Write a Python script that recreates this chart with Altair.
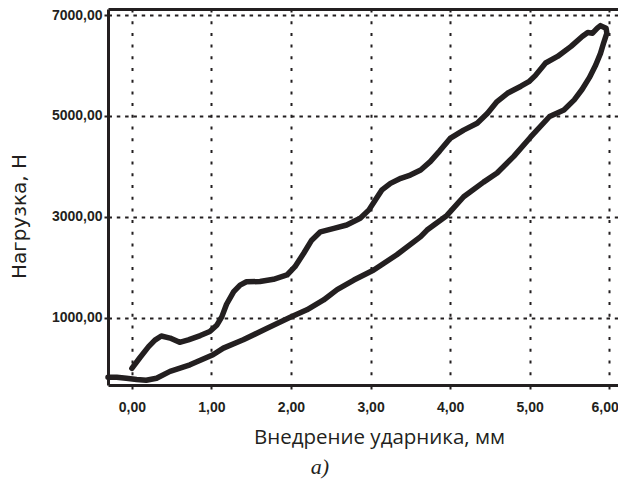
import altair as alt
import pandas as pd

# Penetration of the striker, mm (loading branch followed by unloading branch)
x_mm = [
    0.00, 0.10, 0.21, 0.29, 0.37, 0.48, 0.60, 0.71, 0.86, 0.98,
    1.07, 1.13, 1.19, 1.28, 1.36, 1.44, 1.61, 1.78, 1.95, 2.05,
    2.16, 2.26, 2.37, 2.54, 2.70, 2.87, 2.98, 3.06, 3.14, 3.25,
    3.38, 3.50, 3.63, 3.75, 3.87, 4.00, 4.17, 4.34, 4.47, 4.59,
    4.72, 4.89, 4.99, 5.07, 5.20, 5.35, 5.52, 5.66, 5.73, 5.79,
    5.85, 5.89, 5.96, 5.97,
    5.93, 5.89, 5.83, 5.75, 5.66, 5.56, 5.43, 5.25, 5.01, 4.80,
    4.59, 4.42, 4.17, 3.96, 3.71, 3.63, 3.33, 3.04, 2.79, 2.58,
    2.41, 2.20, 1.99, 1.70, 1.40, 1.15, 1.02, 0.73, 0.48, 0.31,
    0.18, 0.06, -0.07, -0.19, -0.30,
]
# Load, N
load_n = [
    0, 210, 430, 560, 640, 600, 515, 565, 650, 730,
    860, 1020, 1270, 1520, 1650, 1715, 1720, 1765, 1850, 2015,
    2280, 2540, 2705, 2775, 2840, 2975, 3140, 3335, 3530, 3665,
    3765, 3830, 3930, 4095, 4310, 4555, 4720, 4855, 5055, 5285,
    5450, 5590, 5680, 5800, 6050, 6180, 6380, 6575, 6655, 6640,
    6740, 6790, 6740, 6640,
    6450, 6240, 6010, 5760, 5530, 5320, 5120, 4990, 4580, 4200,
    3870, 3690, 3400, 3030, 2740, 2610, 2250, 1950, 1750, 1560,
    1355, 1160, 1010, 795, 565, 400, 270, 70, -60, -195,
    -235, -220, -195, -175, -175,
]
x_ticks = [0, 1, 2, 3, 4, 5, 6]
y_ticks = [1000, 3000, 5000, 7000]

df = pd.DataFrame({"x": x_mm, "y": load_n, "i": list(range(len(x_mm)))})

ink = "#231f20"
x_scale = alt.Scale(domain=[-0.30, 6.11], nice=False, zero=False)
y_scale = alt.Scale(domain=[-330, 7120], nice=False, zero=False)
lbl = "replace(format(datum.value, '.2f'), '.', ',')"

line = alt.Chart(df).mark_line(
    color=ink, strokeWidth=5.5, strokeCap="round", strokeJoin="round"
).encode(
    x=alt.X("x:Q", scale=x_scale, axis=alt.Axis(
        values=x_ticks, labelExpr=lbl, title="Внедрение ударника, мм",
        grid=True, gridDash=[3, 8.7], gridWidth=2, gridColor=ink,
        domainColor=ink, domainWidth=3, tickColor=ink, tickWidth=2, tickSize=4,
        labelFont="Liberation Sans", labelFontWeight="bold", labelFontSize=14,
        labelColor=ink, labelPadding=11, labelFlush=12, labelFlushOffset=9,
        titleFont="Open Sans", titleFontSize=20.5, titleFontWeight="normal",
        titleColor=ink, titleX=271, titleY=52, titleBaseline="middle",
        titleAlign="center", titleAnchor="middle")),
    y=alt.Y("y:Q", scale=y_scale, axis=alt.Axis(
        values=y_ticks, labelExpr=lbl, title="Нагрузка, Н",
        grid=True, gridDash=[3.5, 4.8], gridWidth=2, gridColor=ink,
        domainColor=ink, domainWidth=3, tickColor=ink, tickWidth=2, tickSize=4,
        labelFont="Liberation Sans", labelFontWeight="bold", labelFontSize=14,
        labelColor=ink, labelPadding=2,
        titleFont="DejaVu Sans", titleFontSize=20, titleFontWeight="normal",
        titleColor=ink, titleX=-89, titleY=207, titleBaseline="middle",
        titleAlign="center", titleAnchor="middle")),
    order="i:Q",
)

top = alt.Chart(df).mark_point(opacity=0).encode(
    x=alt.X("x:Q", scale=x_scale, axis=alt.Axis(
        orient="top", labels=False, ticks=False, grid=False, title=None,
        domainColor=ink, domainWidth=3)),
    y=alt.Y("y:Q", scale=y_scale),
)

chart = alt.layer(line, top).resolve_axis(x="independent").properties(
    width=510, height=376,
    autosize=alt.AutoSizeParams(type="none"),
    padding={"left": 100, "top": 1, "right": 0, "bottom": 95},
    title=alt.Title("а)", orient="bottom", font="Liberation Serif",
                    fontStyle="italic", fontWeight="normal", fontSize=22,
                    color=ink, anchor="middle", dx=-43, offset=9),
).configure_view(stroke=None)

chart.save("out.html", embed_options={"renderer": "svg", "actions": False})
